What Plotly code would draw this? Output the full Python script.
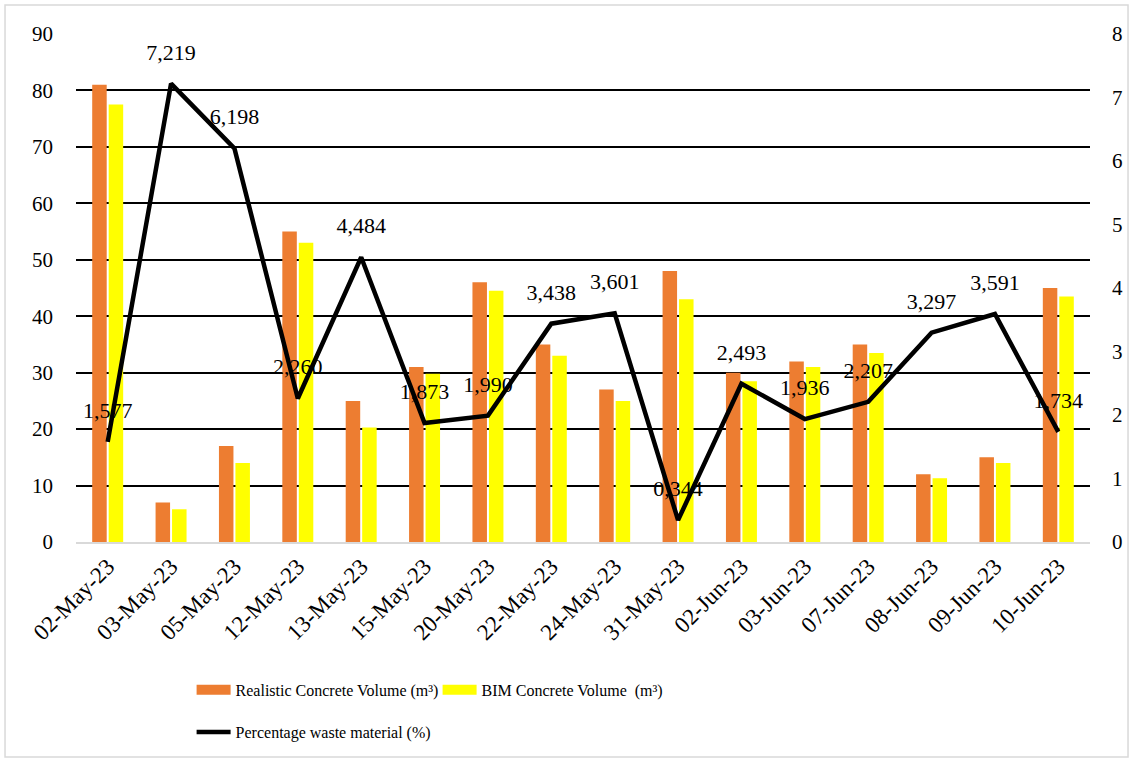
import plotly.graph_objects as go

dates = ["02-May-23", "03-May-23", "05-May-23", "12-May-23", "13-May-23", "15-May-23",
         "20-May-23", "22-May-23", "24-May-23", "31-May-23", "02-Jun-23", "03-Jun-23",
         "07-Jun-23", "08-Jun-23", "09-Jun-23", "10-Jun-23"]
realistic = [81, 7, 17, 55, 25, 31, 46, 35, 27, 48, 30, 32, 35, 12, 15, 45]
bim = [77.5, 5.8, 14, 53, 20.3, 29.8, 44.5, 33, 25, 43, 28.5, 31, 33.5, 11.3, 14, 43.5]
waste = [1.577, 7.219, 6.198, 2.260, 4.484, 1.873, 1.990, 3.438, 3.601, 0.344,
         2.493, 1.936, 2.207, 3.297, 3.591, 1.734]
waste_labels = [f"{v:.3f}".replace(".", ",") for v in waste]

names = ["Realistic Concrete Volume (m³)", "BIM Concrete Volume  (m³)", "Percentage waste material (%)"]
colors = ["#ED7D31", "#FFFF00", "black"]

FONT = "Liberation Serif, Times New Roman, serif"

fig = go.Figure()
fig.add_trace(go.Bar(x=dates, y=realistic, name=names[0], showlegend=False,
                     marker=dict(color=colors[0], line=dict(width=0))))
fig.add_trace(go.Bar(x=dates, y=bim, name=names[1], showlegend=False,
                     marker=dict(color=colors[1], line=dict(width=0))))
# legend swatches for the bar series (wide rectangles like the original)
for nm, c in zip(names[:2], colors[:2]):
    fig.add_trace(go.Scatter(x=[None], y=[None], mode="lines", name=nm,
                             line=dict(color=c, width=10), legend="legend", hoverinfo="skip"))
fig.add_trace(go.Scatter(x=dates, y=waste, name=names[2], yaxis="y2",
                         mode="lines+markers+text", text=waste_labels, textposition="top center",
                         textfont=dict(family=FONT, size=22, color="black"),
                         marker=dict(size=28, color="rgba(0,0,0,0)"),
                         line=dict(color=colors[2], width=4.5), legend="legend2"))

fig.update_layout(
    width=1134, height=762,
    margin=dict(l=76, r=44, t=34, b=220),
    paper_bgcolor="white", plot_bgcolor="white",
    font=dict(family=FONT, size=21, color="black"),
    barmode="group", bargap=0.48, bargroupgap=0.12,
    xaxis=dict(tickangle=-45, showgrid=False, showline=True, linecolor="#D9D9D9", linewidth=2,
               ticks="", tickfont=dict(size=23), automargin=False, range=[-0.5, 15.5]),
    yaxis=dict(range=[0, 90], dtick=10, showgrid=True, gridcolor="black", gridwidth=2,
               zeroline=False, showline=False, ticks="", ticklabelstandoff=22, automargin=False),
    yaxis2=dict(range=[0, 8], dtick=1, overlaying="y", side="right", showgrid=False,
                zeroline=False, showline=False, ticks="", ticklabelstandoff=21, automargin=False),
    legend=dict(orientation="h", x=0.114, xanchor="left", y=-0.291, yanchor="middle",
                font=dict(size=16), bgcolor="rgba(0,0,0,0)", itemwidth=34,
                entrywidth=197, entrywidthmode="pixels"),
    legend2=dict(orientation="h", x=0.114, xanchor="left", y=-0.374, yanchor="middle",
                 font=dict(size=16), bgcolor="rgba(0,0,0,0)", itemwidth=34),
    showlegend=True,
)

fig.add_shape(type="rect", xref="paper", yref="paper", x0=-0.070, x1=1.0375, y0=-0.423, y1=1.057,
              line=dict(color="#D9D9D9", width=1.5), fillcolor="rgba(0,0,0,0)", layer="below")

fig.write_html("out.html")
